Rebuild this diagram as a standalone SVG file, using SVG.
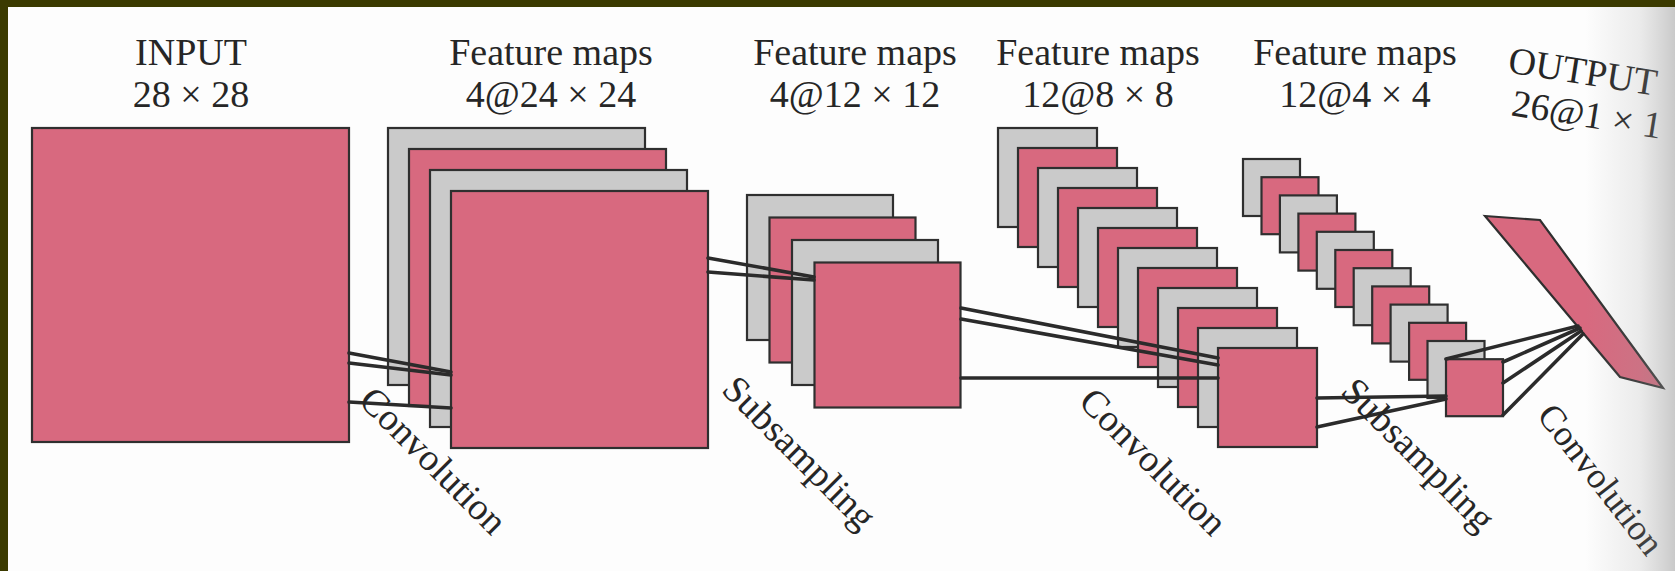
<svg xmlns="http://www.w3.org/2000/svg" width="1675" height="571" viewBox="0 0 1675 571">
  <defs>
    <style>
      .pk { fill: #d8697f; stroke: #2f2f2f; stroke-width: 2.2; }
      .gy { fill: #cacaca; stroke: #2f2f2f; stroke-width: 2.2; }
      .ln { stroke: #2b2b2b; stroke-width: 3.6; fill: none; stroke-linecap: round; }
      .t  { font-family: "Liberation Serif", "Times New Roman", serif; font-size: 38px; fill: #262626; text-anchor: middle; }
    </style>
    <linearGradient id="pageCurl" x1="0" y1="0" x2="1" y2="0">
      <stop offset="0" stop-color="#9a9a9a" stop-opacity="0"/>
      <stop offset="0.6" stop-color="#9a9a9a" stop-opacity="0.18"/>
      <stop offset="1" stop-color="#8a8a8a" stop-opacity="0.45"/>
    </linearGradient>
  </defs>

  <!-- page and frame -->
  <rect x="0" y="0" width="1675" height="571" fill="#fdfdfd"/>
  <rect x="0" y="0" width="1675" height="7" fill="#3b3a00"/>
  <rect x="0" y="0" width="8" height="571" fill="#3b3a00"/>

  <!-- input image -->
  <g id="input">
    <rect class="pk" x="32" y="128" width="317" height="314"/>
  </g>

  <!-- C1: 4 maps 24x24 -->
  <g id="c1-maps">
    <rect class="gy" x="388" y="128" width="257" height="257"/>
    <rect class="pk" x="409" y="149" width="257" height="257"/>
    <rect class="gy" x="430" y="170" width="257" height="257"/>
    <rect class="pk" x="451" y="191" width="257" height="257"/>
  </g>

  <!-- S2: 4 maps 12x12 -->
  <g id="s2-maps">
    <rect class="gy" x="747" y="195" width="146" height="145"/>
    <rect class="pk" x="769.5" y="217.5" width="146" height="145"/>
    <rect class="gy" x="792" y="240" width="146" height="145"/>
    <rect class="pk" x="814.5" y="262.5" width="146" height="145"/>
  </g>

  <!-- C3: 12 maps 8x8 -->
  <g id="c3-maps">
    <rect class="gy" x="998" y="128" width="99" height="99"/>
    <rect class="pk" x="1018" y="148" width="99" height="99"/>
    <rect class="gy" x="1038" y="168" width="99" height="99"/>
    <rect class="pk" x="1058" y="188" width="99" height="99"/>
    <rect class="gy" x="1078" y="208" width="99" height="99"/>
    <rect class="pk" x="1098" y="228" width="99" height="99"/>
    <rect class="gy" x="1118" y="248" width="99" height="99"/>
    <rect class="pk" x="1138" y="268" width="99" height="99"/>
    <rect class="gy" x="1158" y="288" width="99" height="99"/>
    <rect class="pk" x="1178" y="308" width="99" height="99"/>
    <rect class="gy" x="1198" y="328" width="99" height="99"/>
    <rect class="pk" x="1218" y="348" width="99" height="99"/>
  </g>

  <!-- S4: 12 maps 4x4 -->
  <g id="s4-maps">
    <rect class="gy" x="1243" y="159" width="57" height="57"/>
    <rect class="pk" x="1261.5" y="177.2" width="57" height="57"/>
    <rect class="gy" x="1279.9" y="195.4" width="57" height="57"/>
    <rect class="pk" x="1298.4" y="213.6" width="57" height="57"/>
    <rect class="gy" x="1316.8" y="231.8" width="57" height="57"/>
    <rect class="pk" x="1335.3" y="250" width="57" height="57"/>
    <rect class="gy" x="1353.7" y="268.2" width="57" height="57"/>
    <rect class="pk" x="1372.2" y="286.4" width="57" height="57"/>
    <rect class="gy" x="1390.6" y="304.6" width="57" height="57"/>
    <rect class="pk" x="1409.1" y="322.8" width="57" height="57"/>
    <rect class="gy" x="1427.5" y="341" width="57" height="57"/>
    <rect class="pk" x="1446" y="359.2" width="57" height="57"/>
  </g>

  <!-- output layer, seen at an angle -->
  <g id="output">
    <polygon class="pk" points="1485,216 1540,220 1663,388 1620,377"/>
  </g>

  <!-- receptive-field connectors -->
  <g id="connectors">
    <line class="ln" x1="349" y1="353" x2="451" y2="372"/>
    <line class="ln" x1="349" y1="363" x2="451" y2="375"/>
    <line class="ln" x1="349" y1="402" x2="451" y2="408"/>

    <line class="ln" x1="708" y1="258" x2="814" y2="277"/>
    <line class="ln" x1="708" y1="272" x2="814" y2="280"/>

    <line class="ln" x1="961" y1="308" x2="1218" y2="358"/>
    <line class="ln" x1="961" y1="319" x2="1218" y2="365"/>
    <line class="ln" x1="961" y1="378" x2="1218" y2="378"/>

    <line class="ln" x1="1317" y1="398" x2="1446" y2="396"/>
    <line class="ln" x1="1317" y1="427" x2="1446" y2="399"/>

    <line class="ln" x1="1446" y1="359" x2="1578" y2="326"/>
    <line class="ln" x1="1503" y1="362" x2="1580" y2="328"/>
    <line class="ln" x1="1503" y1="383" x2="1581" y2="331"/>
    <line class="ln" x1="1503" y1="415" x2="1583" y2="334"/>
  </g>

  <!-- layer titles -->
  <g id="titles">
    <text class="t" x="191" y="65">INPUT</text>
    <text class="t" x="191" y="107">28 × 28</text>
    <text class="t" x="551" y="65">Feature maps</text>
    <text class="t" x="551" y="107">4@24 × 24</text>
    <text class="t" x="855" y="65">Feature maps</text>
    <text class="t" x="855" y="107">4@12 × 12</text>
    <text class="t" x="1098" y="65">Feature maps</text>
    <text class="t" x="1098" y="107">12@8 × 8</text>
    <text class="t" x="1355" y="65">Feature maps</text>
    <text class="t" x="1355" y="107">12@4 × 4</text>
    <text class="t" x="0" y="0" transform="translate(1581,84) rotate(9)">OUTPUT</text>
    <text class="t" x="0" y="0" transform="translate(1585,127) rotate(9)">26@1 × 1</text>
  </g>

  <!-- operation labels -->
  <g id="operations">
    <text class="t" x="0" y="12" transform="translate(433,461) rotate(45)">Convolution</text>
    <text class="t" x="0" y="12" transform="translate(799,453) rotate(45)">Subsampling</text>
    <text class="t" x="0" y="12" transform="translate(1153,462) rotate(45)">Convolution</text>
    <text class="t" x="0" y="12" transform="translate(1418,455) rotate(45)">Subsampling</text>
    <text class="t" x="0" y="11" style="font-size:36px" transform="translate(1600,480) rotate(52)">Convolution</text>
  </g>

  <!-- shading where the page curves away at the right edge -->
  <rect x="1585" y="7" width="90" height="564" fill="url(#pageCurl)"/>
</svg>
